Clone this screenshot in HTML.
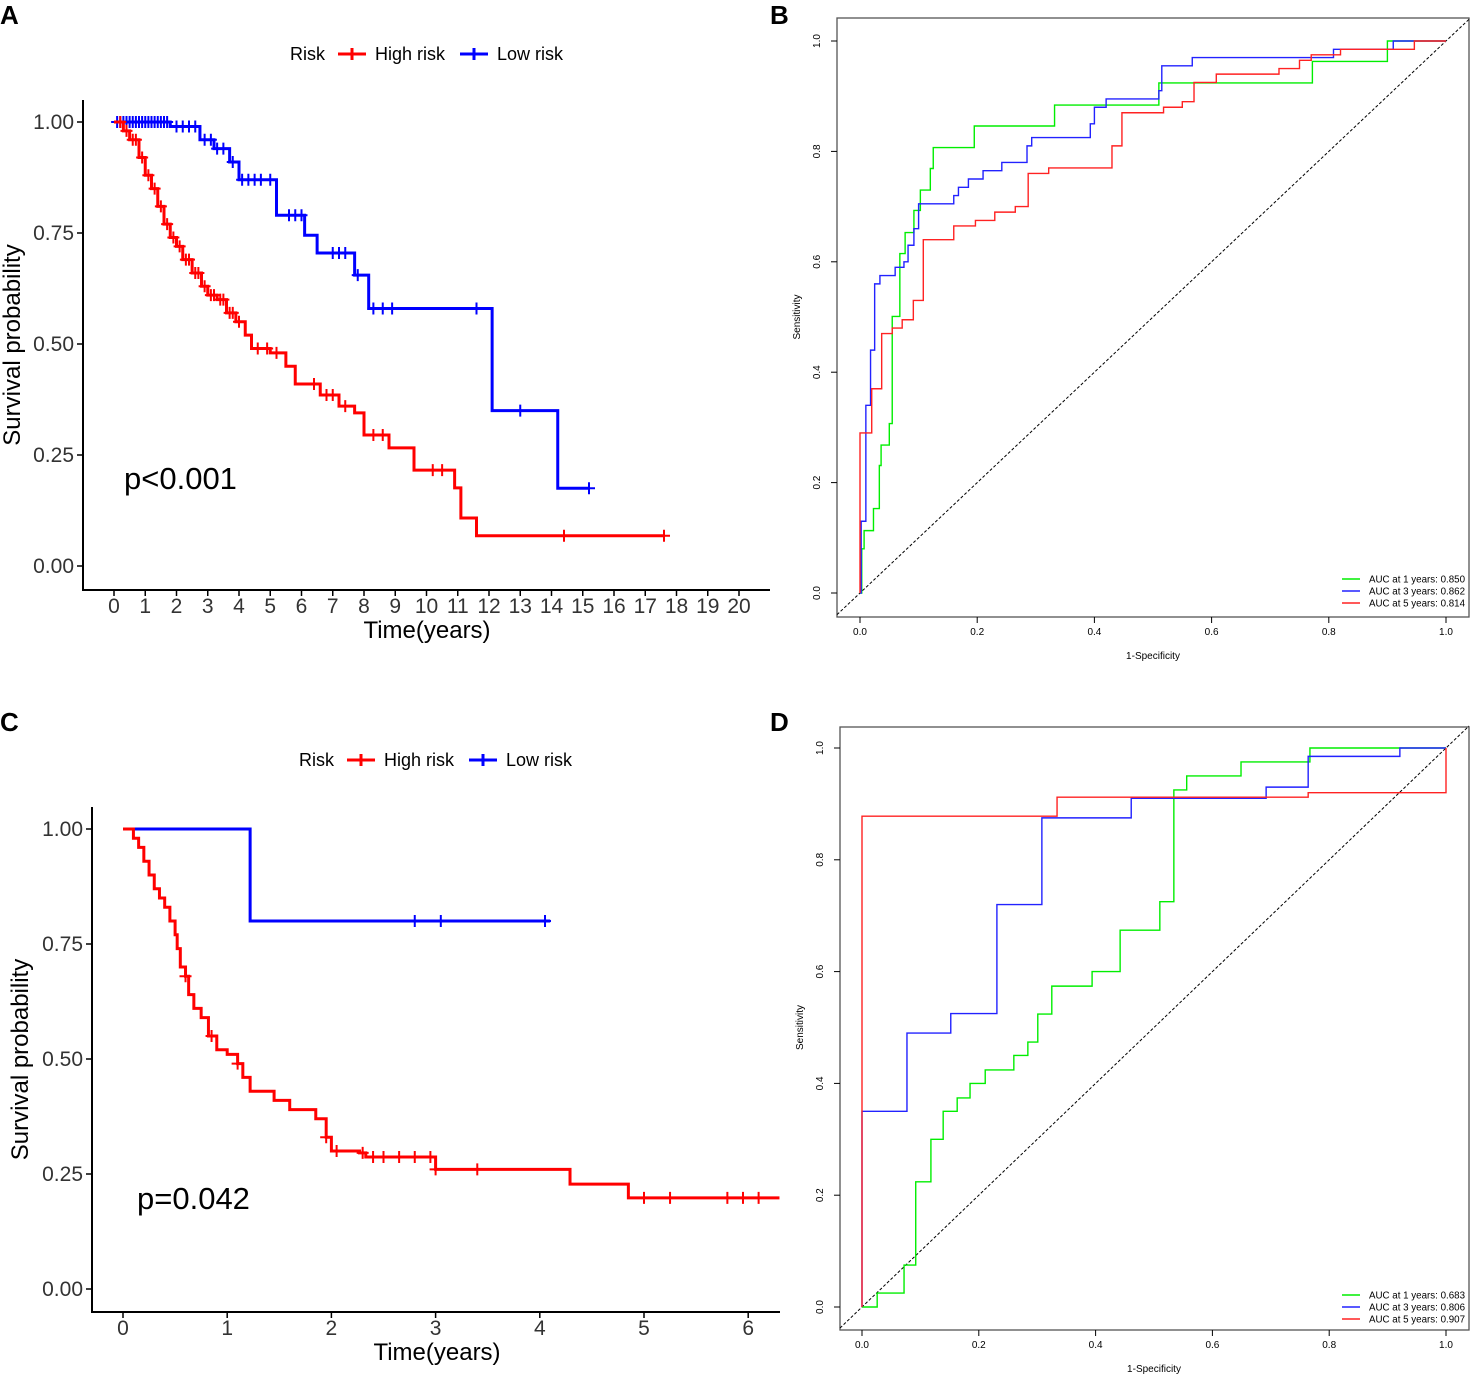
<!DOCTYPE html>
<html><head><meta charset="utf-8"><style>
html,body{margin:0;padding:0;background:#fff}
svg{display:block}
text{font-family:"Liberation Sans",Arial,sans-serif}
</style></head><body>
<svg id="fig" width="1476" height="1379" viewBox="0 0 1476 1379" xmlns="http://www.w3.org/2000/svg">
<g id="static"></g>
</svg>
<script>
// ---------- Panel A data ----------
const aHighT=[0.3,0.5,0.8,1.0,1.2,1.4,1.6,1.8,2.0,2.2,2.5,2.8,3.0,3.3,3.6,3.9,4.2,4.4,5.0,5.5,5.8,6.6,7.2,7.7,8.0,8.8,9.6,10.9,11.1,11.6];
const aHighS=[0.98,0.96,0.92,0.88,0.85,0.81,0.77,0.74,0.72,0.69,0.66,0.63,0.61,0.60,0.57,0.55,0.52,0.49,0.48,0.45,0.41,0.385,0.36,0.345,0.295,0.266,0.216,0.176,0.108,0.068];
const aHighEnd=17.6;
const aHighCens=[0.2,0.4,0.6,0.7,0.9,1.1,1.3,1.5,1.7,1.9,2.1,2.3,2.4,2.6,2.7,2.9,3.1,3.2,3.4,3.5,3.7,3.8,4.0,4.6,4.9,5.2,6.4,6.8,7.0,7.4,8.3,8.6,10.2,10.5,14.4,17.6];
const aLowT=[1.8,2.75,3.2,3.7,4.0,5.2,6.1,6.5,7.7,8.15,12.1,14.2];
const aLowS=[0.99,0.96,0.94,0.91,0.87,0.79,0.745,0.705,0.655,0.58,0.35,0.175];
const aLowEnd=15.2;
const aLowCens=[0.1,0.2,0.3,0.4,0.5,0.6,0.7,0.8,0.9,1.0,1.1,1.2,1.3,1.4,1.5,1.6,1.7,2.0,2.2,2.4,2.6,2.9,3.1,3.3,3.5,3.8,4.1,4.3,4.5,4.7,5.0,5.6,5.8,6.0,7.0,7.2,7.4,7.8,8.3,8.6,8.9,11.6,13.0,15.2];
const aXTicks=[0,1,2,3,4,5,6,7,8,9,10,11,12,13,14,15,16,17,18,19,20];
const kmYTicks=[0,0.25,0.5,0.75,1.0];
const kmYLabels=["0.00","0.25","0.50","0.75","1.00"];
// ---------- Panel C data ----------
const cHighT=[0.1,0.15,0.2,0.25,0.3,0.35,0.4,0.45,0.5,0.52,0.55,0.6,0.63,0.68,0.75,0.82,0.9,1.0,1.1,1.15,1.22,1.45,1.6,1.85,1.95,2.0,2.27,2.33,3.0,4.29,4.85];
const cHighS=[0.98,0.96,0.93,0.9,0.87,0.85,0.83,0.8,0.77,0.74,0.7,0.68,0.64,0.61,0.59,0.55,0.52,0.51,0.49,0.46,0.43,0.41,0.39,0.37,0.33,0.30,0.296,0.287,0.26,0.228,0.198];
const cHighEnd=6.3;
const cHighCens=[0.6,0.85,1.1,1.95,2.05,2.3,2.4,2.5,2.65,2.8,2.95,3.0,3.4,5.0,5.25,5.8,5.95,6.1];
const cLowT=[1.22];
const cLowS=[0.8];
const cLowEnd=4.1;
const cLowCens=[2.8,3.05,4.05];
const cXTicks=[0,1,2,3,4,5,6];
// ---------- Panel B data (fpr, tpr steps) ----------
const b1F=[0.003,0.007,0.023,0.033,0.036,0.05,0.055,0.068,0.077,0.092,0.103,0.12,0.125,0.195,0.332,0.51,0.772,0.9,1.0];
const b1T=[0.08,0.113,0.153,0.231,0.268,0.307,0.501,0.615,0.653,0.693,0.73,0.769,0.807,0.846,0.884,0.924,0.963,1.0,1.0];
const b3F=[0.002,0.01,0.018,0.025,0.034,0.06,0.075,0.082,0.092,0.1,0.16,0.168,0.185,0.21,0.242,0.285,0.293,0.393,0.4,0.42,0.51,0.515,0.567,0.808,0.91,1.0];
const b3T=[0.13,0.34,0.44,0.56,0.575,0.59,0.6,0.63,0.66,0.705,0.72,0.735,0.75,0.765,0.78,0.81,0.825,0.85,0.88,0.895,0.91,0.955,0.97,0.985,1.0,1.0];
const b5F=[0.0,0.02,0.037,0.055,0.072,0.091,0.108,0.16,0.197,0.23,0.265,0.287,0.322,0.43,0.447,0.518,0.55,0.57,0.608,0.715,0.75,0.77,0.82,0.946,1.0];
const b5T=[0.29,0.37,0.47,0.48,0.495,0.53,0.64,0.665,0.675,0.69,0.70,0.76,0.77,0.81,0.87,0.88,0.89,0.925,0.94,0.95,0.965,0.975,0.985,1.0,1.0];
const bLegend=["AUC at 1 years: 0.850","AUC at 3 years: 0.862","AUC at 5 years: 0.814"];
// ---------- Panel D data ----------
const d1F=[0.026,0.072,0.092,0.118,0.139,0.163,0.185,0.211,0.26,0.284,0.301,0.325,0.394,0.442,0.51,0.534,0.556,0.649,0.767,1.0];
const d1T=[0.025,0.075,0.224,0.30,0.35,0.374,0.40,0.424,0.45,0.474,0.524,0.574,0.60,0.674,0.725,0.925,0.95,0.975,1.0,1.0];
const d3F=[0.0,0.077,0.152,0.231,0.308,0.461,0.692,0.764,0.921,1.0];
const d3T=[0.35,0.49,0.525,0.72,0.875,0.91,0.93,0.985,1.0,1.0];
const d5F=[0.0,0.334,0.764,1.0,1.0];
const d5T=[0.878,0.912,0.92,0.93,1.0];
const dLegend=["AUC at 1 years: 0.683","AUC at 3 years: 0.806","AUC at 5 years: 0.907"];
const rocTicks=[0,0.2,0.4,0.6,0.8,1.0];
const rocLabels=["0.0","0.2","0.4","0.6","0.8","1.0"];

const NS="http://www.w3.org/2000/svg";
const svg=document.getElementById('fig');
function el(tag,attrs,parent,txt){const e=document.createElementNS(NS,tag);for(const k in attrs)e.setAttribute(k,attrs[k]);if(txt!==undefined)e.textContent=txt;(parent||svg).appendChild(e);return e;}
function lin(d0,d1,p0,p1){return v=>p0+(v-d0)*(p1-p0)/(d1-d0);}
function stepAt(ts,ss,t){let s=1;for(let i=0;i<ts.length;i++){if(ts[i]<=t)s=ss[i];}return s;}

function kmPanel(cfg){
  const g=el('g',{});
  
  
  const sx=lin(0,1,cfg.x0,cfg.x1), sy=lin(0,1,cfg.y0,cfg.y1);
  const ax=el('path',{d:`M${cfg.ax} ${cfg.ayTop} V${cfg.ay} H${cfg.axRight}`,stroke:'#000','stroke-width':2,fill:'none'},g);
  
  kmYTicks.forEach((v,i)=>{
    el('line',{x1:cfg.ax-6,x2:cfg.ax,y1:sy(v),y2:sy(v),stroke:'#000','stroke-width':1.5},g);
    const t=el('text',{x:cfg.ax-9,y:sy(v)+7,'text-anchor':'end','font-size':21,fill:'#333'},g,kmYLabels[i]);
    
  });
  cfg.xticks.forEach(v=>{
    el('line',{x1:sx(v),x2:sx(v),y1:cfg.ay,y2:cfg.ay+6,stroke:'#000','stroke-width':1.5},g);
    const t=el('text',{x:sx(v),y:cfg.ay+23,'text-anchor':'middle','font-size':21,fill:'#333'},g,String(v));
    
  });
  const xt=el('text',{x:cfg.xtitleX,y:cfg.ay+48,'text-anchor':'middle','font-size':24,fill:'#000'},g,'Time(years)');
  
  const yt=el('text',{x:0,y:0,'text-anchor':'middle','font-size':24,fill:'#000',transform:`translate(${cfg.ytitleX},${(cfg.ayTop+cfg.ay)/2}) rotate(-90)`},g,'Survival probability');
  
  const pv=el('text',{x:cfg.px,y:cfg.py,'font-size':31,fill:'#000'},g,cfg.ptext);
  
  const series=[[cfg.lowT,cfg.lowS,cfg.lowEnd,cfg.lowC,'#0000ff','low-risk-curve'],[cfg.highT,cfg.highS,cfg.highEnd,cfg.highC,'#ff0000','high-risk-curve']];
  series.forEach(([T,S,end,C,col,nm])=>{
    let d=`M${sx(0)} ${sy(1)}`;
    for(let i=0;i<T.length;i++){d+=` H${sx(T[i])} V${sy(S[i])}`;}
    d+=` H${sx(end)}`;
    const p=el('path',{d,stroke:col,'stroke-width':3,fill:'none'},g);
    
    C.forEach(t=>{
      const x=sx(t),y=sy(stepAt(T,S,t));
      const m=el('path',{d:`M${x-6} ${y} H${x+6} M${x} ${y-6} V${y+6}`,stroke:col,'stroke-width':2},g);
      
    });
  });
  const lg=el('g',{},g);
  
  const L=cfg.legX, LY=cfg.legY;
  el('text',{x:L,y:LY+6,'font-size':18,fill:'#000'},lg,'Risk');
  el('path',{d:`M${L+48} ${LY} H${L+76} M${L+62} ${LY-6} V${LY+6}`,stroke:'#ff0000','stroke-width':3},lg);
  const e1=el('text',{x:L+85,y:LY+6,'font-size':18,fill:'#000'},lg,'High risk');
  
  el('path',{d:`M${L+170} ${LY} H${L+198} M${L+184} ${LY-6} V${LY+6}`,stroke:'#0000ff','stroke-width':3},lg);
  const e2=el('text',{x:L+207,y:LY+6,'font-size':18,fill:'#000'},lg,'Low risk');
  
}

kmPanel({name:'km-panel-a',x0:114,x1:145.25,y0:566,y1:122,ax:83,ay:590,ayTop:100,axRight:770,xticks:aXTicks,
  xtitleX:427,ytitleX:20,px:124,py:489,ptext:'p<0.001',legX:290,legY:54,
  highT:aHighT,highS:aHighS,highEnd:aHighEnd,highC:aHighCens,lowT:aLowT,lowS:aLowS,lowEnd:aLowEnd,lowC:aLowCens});
kmPanel({name:'km-panel-c',x0:123,x1:227.2,y0:1289,y1:829,ax:92,ay:1312,ayTop:807,axRight:780,xticks:cXTicks,
  xtitleX:437,ytitleX:28,px:137,py:1209,ptext:'p=0.042',legX:299,legY:760,
  highT:cHighT,highS:cHighS,highEnd:cHighEnd,highC:cHighCens,lowT:cLowT,lowS:cLowS,lowEnd:cLowEnd,lowC:cLowCens});

function rocPanel(cfg){
  const g=el('g',{});
  
  
  const sx=lin(0,1,cfg.x0,cfg.x1), sy=lin(0,1,cfg.y0,cfg.y1);
  const box=el('rect',{x:cfg.bx0,y:cfg.by0,width:cfg.bx1-cfg.bx0,height:cfg.by1-cfg.by0,fill:'none',stroke:'#555','stroke-width':1.3},g);
  
  const dy0=sy((cfg.bx0-cfg.x0)/(cfg.x1-cfg.x0));
  const dl=el('line',{x1:cfg.bx0,y1:dy0,x2:cfg.bx1,y2:sy((cfg.bx1-cfg.x0)/(cfg.x1-cfg.x0)),stroke:'#000','stroke-width':1,'stroke-dasharray':'3,2'},g);
  
  rocTicks.forEach((v,i)=>{
    el('line',{x1:sx(v),x2:sx(v),y1:cfg.by1,y2:cfg.by1+6,stroke:'#000','stroke-width':1},g);
    const t=el('text',{x:sx(v),y:cfg.by1+18,'text-anchor':'middle','font-size':10,fill:'#000'},g,rocLabels[i]);
    
    el('line',{x1:cfg.bx0-6,x2:cfg.bx0,y1:sy(v),y2:sy(v),stroke:'#000','stroke-width':1},g);
    const ty=el('text',{x:0,y:0,'text-anchor':'middle','font-size':10,fill:'#000',transform:`translate(${cfg.bx0-17},${sy(v)}) rotate(-90)`},g,rocLabels[i]);
    
  });
  const xt=el('text',{x:(cfg.x0+cfg.x1)/2,y:cfg.by1+42,'text-anchor':'middle','font-size':10,fill:'#000'},g,'1-Specificity');
  
  const yt=el('text',{x:0,y:0,'text-anchor':'middle','font-size':10,fill:'#000',transform:`translate(${cfg.bx0-37},${(cfg.y0+cfg.y1)/2}) rotate(-90)`},g,'Sensitivity');
  
  const cols=['#00ee00','#2222ff','#ff2222'];
  const names=['roc-1-year','roc-3-year','roc-5-year'];
  cfg.series.forEach(([F,T],k)=>{
    let d=`M${sx(0)} ${sy(0)}`;
    for(let i=0;i<F.length;i++){d+=` H${sx(F[i])} V${sy(T[i])}`;}
    const p=el('path',{d,stroke:cols[k],'stroke-width':1.4,fill:'none'},g);
    
  });
  const lg=el('g',{},g);
  
  cfg.legend.forEach((s,k)=>{
    const y=cfg.legY+k*12;
    el('line',{x1:cfg.legX,x2:cfg.legX+18,y1:y,y2:y,stroke:cols[k],'stroke-width':1.4},lg);
    const t=el('text',{x:cfg.legX+27,y:y+3.5,'font-size':10,fill:'#000','textLength':96,'lengthAdjust':'spacingAndGlyphs'},lg,s);
    
  });
}
rocPanel({name:'roc-panel-b',x0:860,x1:1446,y0:593,y1:41,bx0:837,bx1:1469,by0:18,by1:617,
  series:[[b1F,b1T],[b3F,b3T],[b5F,b5T]],legend:bLegend,legX:1342,legY:579});
rocPanel({name:'roc-panel-d',x0:862,x1:1446,y0:1307,y1:748,bx0:840,bx1:1469,by0:727,by1:1330,
  series:[[d1F,d1T],[d3F,d3T],[d5F,d5T]],legend:dLegend,legX:1342,legY:1295});

[['A',0,24],['B',770,24],['C',0,731],['D',770,731]].forEach(([l,x,y])=>{
  const t=el('text',{x,y,'font-size':26,'font-weight':'bold',fill:'#000'},svg,l);
  
  
});
</script>
</body></html>
